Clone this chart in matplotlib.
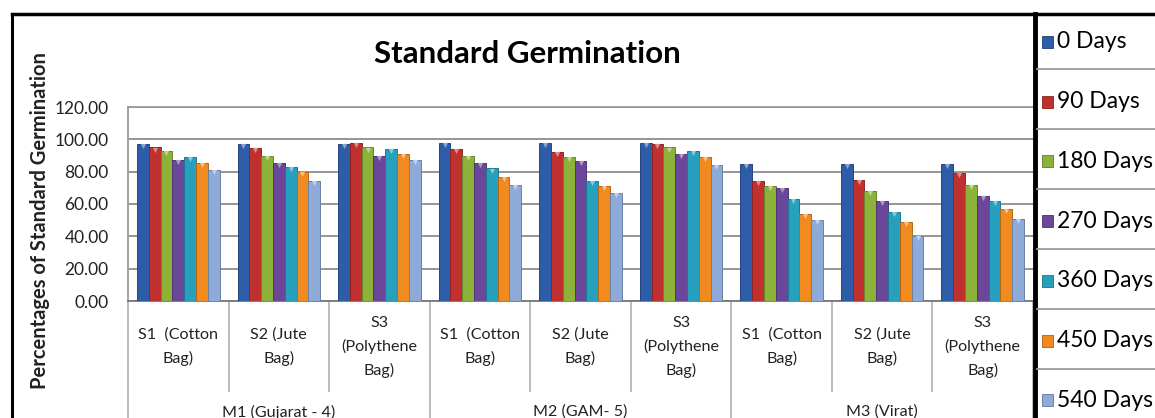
import numpy as np
import matplotlib.pyplot as plt
from matplotlib.lines import Line2D
from matplotlib.patches import Rectangle
from matplotlib.transforms import blended_transform_factory
from matplotlib.colors import to_rgb

plt.rcParams['font.family'] = ['Lato', 'DejaVu Sans']

# categories: storage bag within each variety
bags = ['S1  (Cotton\nBag)', 'S2 (Jute\nBag)', 'S3\n(Polythene\nBag)'] * 3
varieties = ['M1 (Gujarat - 4)', 'M2 (GAM- 5)', 'M3 (Virat)']

days = ['0 Days', '90 Days', '180 Days', '270 Days', '360 Days', '450 Days', '540 Days']
day0 = [97, 97, 97, 97.5, 97.5, 97.5, 85, 85, 85]
day90 = [95, 94.5, 98, 94, 92, 97, 74, 75, 79]
day180 = [93, 90, 95, 90, 89, 95, 71, 68, 72]
day270 = [87, 85.5, 90, 85.5, 86.5, 91, 70, 62, 65]
day360 = [89, 83, 94, 82, 74.5, 93, 63, 55, 62]
day450 = [85.5, 80, 91, 77, 71, 89, 54, 49, 57]
day540 = [81, 74, 87, 72, 67, 84, 50, 40.5, 51]
series = [day0, day90, day180, day270, day360, day450, day540]
colors = ['#2d5da8', '#c0302e', '#8cb23a', '#6a479a', '#27a0be', '#f18a1f', '#8eaad8']

W, H = 1155, 418
fig = plt.figure(figsize=(W / 100, H / 100), dpi=100)


def fx(px):
    return px / W


def fy(py):
    return 1 - py / H


ax = fig.add_axes([fx(128), fy(301), fx(1033) - fx(128), fy(107) - fy(301)])

n = len(series)
group_w = 0.82
bw = group_w / n
x = np.arange(len(bags)) + 0.5
for i, (vals, c) in enumerate(zip(series, colors)):
    pos = x - group_w / 2 + bw * (i + 0.5)
    dark = tuple(v * 0.75 for v in to_rgb(c))
    light = tuple(v + (1 - v) * 0.45 for v in to_rgb(c))
    ax.bar(pos, vals, width=bw, color=c, edgecolor=dark, linewidth=0.7, zorder=3)
    ax.scatter(pos, np.array(vals) - 1.3, marker='v', s=14, color=light, linewidths=0, zorder=4)

ax.set_xlim(0, len(bags))
ax.set_ylim(0, 120)
ax.set_yticks(np.arange(0, 121, 20))
ax.set_yticklabels([f'{v:.2f}' for v in np.arange(0, 121, 20)], fontsize=12.5, color='#222222')
ax.tick_params(axis='y', length=0, pad=14)
ax.set_xticks([])
ax.yaxis.grid(True, color='#8c8c8c', linewidth=1.3, zorder=0)
for s in ['top', 'left']:
    ax.spines[s].set_color('#9a9a9a')
    ax.spines[s].set_linewidth(1.3)
ax.spines['right'].set_visible(False)
ax.spines['bottom'].set_color('#777777')
ax.spines['bottom'].set_linewidth(1.3)

fig.text(fx(40), fy(221), 'Percentages of Standard Germination', rotation=90,
         ha='center', va='center', fontsize=14.5, fontweight='bold', color='#222222')

fig.text(fx(527), fy(54), 'Standard Germination', ha='center', va='center',
         fontsize=22.5, fontweight='bold')

# two-level category axis below the plot
tr = blended_transform_factory(ax.transData, fig.transFigure)
for i, lab in enumerate(bags):
    ax.text(x[i], fy(347), lab, transform=tr, ha='center', va='center',
            fontsize=11.6, linespacing=1.75, color='#222222', clip_on=False)
for k in range(len(bags) + 1):
    bottom = fy(418) if k % 3 == 0 else fy(391)
    ax.add_line(Line2D([k, k], [fy(301), bottom], transform=tr, color='#b5b5b5',
                       linewidth=1.3, clip_on=False))
for j, lab in enumerate(varieties):
    ax.text(3 * j + 1.5, fy(412), lab, transform=tr, ha='center', va='center',
            fontsize=11.6, color='#222222', clip_on=False)

# outer frame
fig.add_artist(Line2D([fx(12), 1], [fy(14), fy(14)], color='black', linewidth=2.5))
fig.add_artist(Line2D([fx(12), fx(12)], [fy(14), 0], color='black', linewidth=2.2))

# legend panel on the right
fig.add_artist(Line2D([fx(1035), fx(1035)], [fy(14), 0], color='black', linewidth=3.5))
for k in range(1, n):
    yy = fy(9 + 60 * k)
    fig.add_artist(Line2D([fx(1037), 1], [yy, yy], color='#9a9a9a', linewidth=1.3))
for k, (lab, c) in enumerate(zip(days, colors)):
    yc = 42 + 59.7 * k
    fig.add_artist(Rectangle((fx(1042), fy(yc + 6)), fx(11), 12 / H, facecolor=c,
                             edgecolor=tuple(v * 0.7 for v in to_rgb(c)), linewidth=0.6))
    fig.text(fx(1057), fy(yc), lab, ha='left', va='center', fontsize=16.5)

fig.savefig('out.png', dpi=100)
